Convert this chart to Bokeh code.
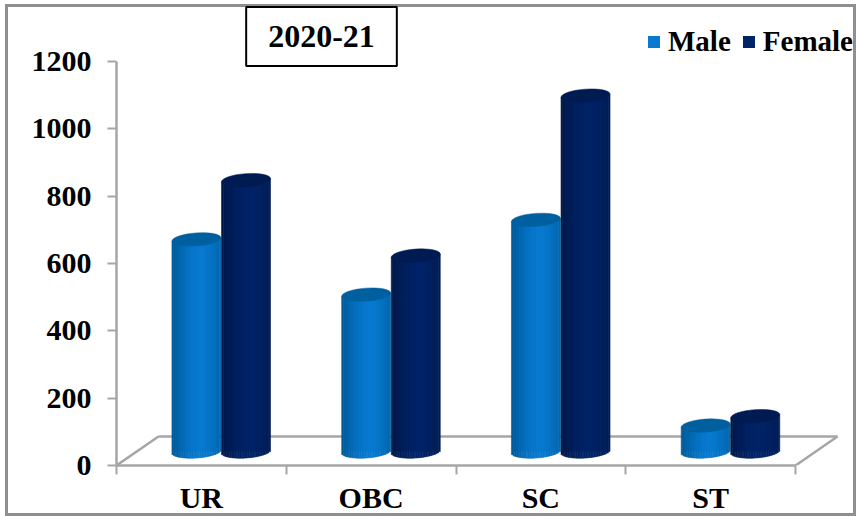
import math
from bokeh.embed import file_html
from bokeh.resources import INLINE
from bokeh.models import (FixedTicker, Label, Legend, LegendItem,
                          LinearAxis, Range1d)
from bokeh.plotting import figure

categories = ["UR", "OBC", "SC", "ST"]
male = [630, 466, 688, 77]
female = [806, 582, 1057, 105]
y_ticks = [0, 200, 400, 600, 800, 1000, 1200]
title_text = "2020-21"

FONT = "Liberation Serif"
GRAY = "#a6a6a6"
EDGE_GRAY = "#8f8f8f"
MALE_EDGE, MALE_MID, MALE_TOP = (0, 88, 150), (8, 122, 208), "#00609f"
FEMALE_EDGE, FEMALE_MID, FEMALE_TOP = (0, 24, 72), (0, 36, 104), "#001b52"

PX_X = 169.75
PX_Y = 404 / 1200
BAR_W = 49 / PX_X
BASE = 14 / PX_Y
MINOR = 6.5 / PX_Y
TILT = 1.6 / PX_Y
DEPTH_X = 42 / PX_X
DEPTH_Y = 29 / PX_Y
N = 30
LEFT, BOTTOM = 116, 465  # frame origin on the canvas

p = figure(width=856, height=516, output_backend="svg", toolbar_location=None,
           x_range=Range1d(0, 740 / PX_X), y_range=Range1d(0, 465 / PX_Y),
           min_border_left=116, min_border_bottom=51, min_border_top=0, min_border_right=0,
           x_axis_type=None, y_axis_type=None, outline_line_color=None,
           border_fill_color=None, background_fill_color=None)
g = f"linear-gradient({EDGE_GRAY},{EDGE_GRAY})"
p.styles = {
    "background-image": ",".join([g] * 4),
    "background-repeat": "no-repeat",
    "background-size": "3px 512px,851px 3px,3px 512px,851px 3px",
    "background-position": "5px 4px,5px 4px,853px 4px,5px 513px",
}
p.grid.visible = False

yaxis = LinearAxis(ticker=FixedTicker(ticks=y_ticks), bounds=(0, 1200))
yaxis.axis_line_color = GRAY
yaxis.axis_line_width = 2.5
yaxis.major_tick_line_color = GRAY
yaxis.major_tick_line_width = 2
yaxis.major_tick_out = 9
yaxis.major_tick_in = 0
yaxis.minor_tick_line_color = None
yaxis.major_label_standoff = 16
yaxis.major_label_text_font = FONT
yaxis.major_label_text_font_style = "bold"
yaxis.major_label_text_font_size = "30px"
yaxis.major_label_text_color = "#000000"
p.add_layout(yaxis, "left")

centers = [i + 0.5 for i in range(len(categories))]
xaxis = LinearAxis(ticker=FixedTicker(ticks=centers, minor_ticks=list(range(len(categories) + 1))),
                   bounds=(0, len(categories)),
                   major_label_overrides={c: n for c, n in zip(centers, categories)})
xaxis.axis_line_color = GRAY
xaxis.axis_line_width = 2.5
xaxis.major_tick_line_color = None
xaxis.minor_tick_line_color = GRAY
xaxis.minor_tick_line_width = 2
xaxis.minor_tick_out = 9
xaxis.minor_tick_in = 0
xaxis.major_tick_out = 0
xaxis.major_tick_in = 0
xaxis.major_label_standoff = 6
xaxis.major_label_text_baseline = "hanging"
xaxis.major_label_text_font = FONT
xaxis.major_label_text_font_style = "bold"
xaxis.major_label_text_font_size = "30px"
xaxis.major_label_text_color = "#000000"
p.add_layout(xaxis, "below")

# 3-D floor
n = len(categories)
p.line([0, DEPTH_X], [0, DEPTH_Y], line_color=GRAY, line_width=2.5)
p.line([DEPTH_X, n + DEPTH_X], [DEPTH_Y, DEPTH_Y], line_color=GRAY, line_width=2.5)
p.line([n + DEPTH_X, n], [DEPTH_Y, 0], line_color=GRAY, line_width=2.5)


def shade(edge, mid, t):
    # t in -1..1; brightest right of the centre
    k = max(0.0, 1 - (abs(t - 0.15) / 1.15) ** 1.6)
    return "#%02x%02x%02x" % tuple(round(e + (m - e) * k) for e, m in zip(edge, mid))


def cylinders(values, shift, edge, mid, top_color):
    xs, tops, bottoms, cols = [], [], [], []
    for i, v in enumerate(values):
        c = i + shift
        for j in range(N):
            t = (j + 0.5) / N * 2 - 1
            xs.append(c + t * BAR_W / 2)
            tilt = t * TILT
            tops.append(BASE + v + tilt)
            bottoms.append(BASE + tilt - MINOR * math.sqrt(1 - t * t))
            cols.append(shade(edge, mid, t))
    base = p.vbar(x=[i + shift for i in range(len(values))], top=[BASE + v for v in values],
                  bottom=BASE, width=BAR_W * 0.9,
                  fill_color="#%02x%02x%02x" % mid, line_color=None)
    p.vbar(x=xs, top=tops, bottom=bottoms, width=BAR_W / N, fill_color=cols, line_color=cols, line_width=0.6)
    p.ellipse(x=[i + shift for i in range(len(values))], y=[BASE + v for v in values],
              width=BAR_W, height=2 * MINOR, angle=math.radians(4),
              fill_color=top_color, line_color=top_color, line_width=0.5)
    return base


r_m = cylinders(male, 0.471, MALE_EDGE, MALE_MID, MALE_TOP)
r_f = cylinders(female, 0.763, FEMALE_EDGE, FEMALE_MID, FEMALE_TOP)

legend = Legend(items=[LegendItem(label="Male", renderers=[r_m]), LegendItem(label="Female", renderers=[r_f])],
                orientation="horizontal", location=(530, 407), background_fill_alpha=0, background_fill_color=None,
                border_line_color=None,
                padding=0, margin=0, spacing=10, label_standoff=7, glyph_width=15, glyph_height=15,
                label_text_font=FONT, label_text_font_style="bold", label_text_font_size="29px",
                label_text_color="#000000")
p.add_layout(legend, "center")

p.add_layout(Label(x=321 - LEFT, y=BOTTOM - 36, x_units="screen", y_units="screen", text=title_text,
                   text_align="center", text_baseline="middle", text_font=FONT, text_font_style="bold",
                   text_font_size="32px", text_color="#000000", background_fill_color="#ffffff",
                   border_line_color="#000000", border_line_width=2, padding=(22, 19)))

open("out.html", "w").write(file_html(p, INLINE))
